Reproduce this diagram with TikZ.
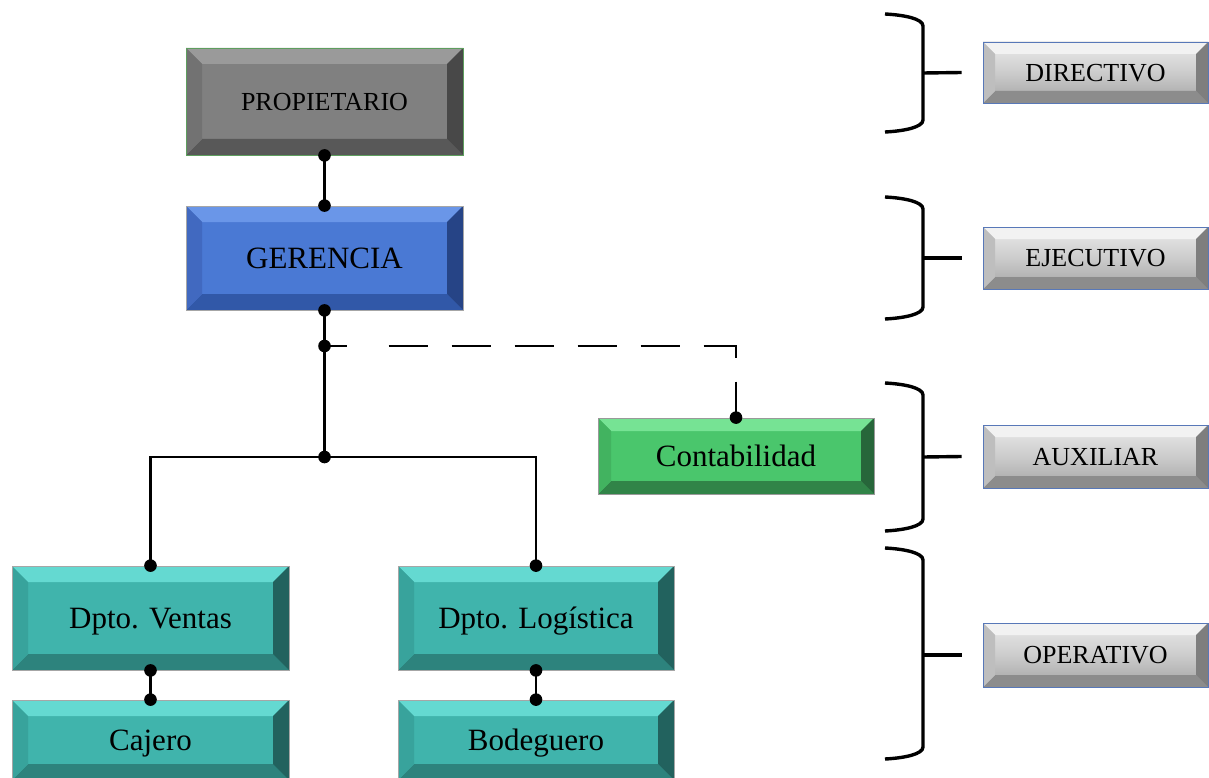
\documentclass[tikz,border=0pt]{standalone}
\usepackage{fontspec}
\setmainfont{Liberation Serif}
\definecolor{gbase}{HTML}{808080}\definecolor{gtop}{HTML}{9A9A9A}\definecolor{gbot}{HTML}{585858}\definecolor{gright}{HTML}{484848}\definecolor{gleft}{HTML}{727272}
\definecolor{bbase}{HTML}{4A79D4}\definecolor{btop}{HTML}{6A96E8}\definecolor{bbot}{HTML}{3158A8}\definecolor{bright}{HTML}{264486}\definecolor{bleft}{HTML}{4169C0}
\definecolor{cbase}{HTML}{4AC66C}\definecolor{ctop}{HTML}{76E394}\definecolor{cbot}{HTML}{318448}\definecolor{cright}{HTML}{27663A}\definecolor{cleft}{HTML}{42B360}
\definecolor{tbase}{HTML}{40B4AC}\definecolor{ttop}{HTML}{64D9D1}\definecolor{tbot}{HTML}{2D837D}\definecolor{tright}{HTML}{22625E}\definecolor{tleft}{HTML}{38A39C}
\definecolor{ltop}{HTML}{F2F2F2}\definecolor{lbot}{HTML}{8C8C8C}\definecolor{lright}{HTML}{7E7E7E}\definecolor{lleft}{HTML}{BEBEBE}
\definecolor{lborder}{HTML}{5878B8}\definecolor{pborder}{HTML}{5E9E5E}
\tikzset{
  bevsz/.store in=\bevsz, bevsz=16,
  bev/.style n args={4}{path picture={
    \fill[#1] (path picture bounding box.north west) -- (path picture bounding box.north east)
      -- ([xshift=-\bevsz pt,yshift=-\bevsz pt]path picture bounding box.north east)
      -- ([xshift=\bevsz pt,yshift=-\bevsz pt]path picture bounding box.north west) -- cycle;
    \fill[#2] (path picture bounding box.south west) -- (path picture bounding box.south east)
      -- ([xshift=-\bevsz pt,yshift=\bevsz pt]path picture bounding box.south east)
      -- ([xshift=\bevsz pt,yshift=\bevsz pt]path picture bounding box.south west) -- cycle;
    \fill[#3] (path picture bounding box.north east) -- (path picture bounding box.south east)
      -- ([xshift=-\bevsz pt,yshift=\bevsz pt]path picture bounding box.south east)
      -- ([xshift=-\bevsz pt,yshift=-\bevsz pt]path picture bounding box.north east) -- cycle;
    \fill[#4] (path picture bounding box.north west) -- (path picture bounding box.south west)
      -- ([xshift=\bevsz pt,yshift=\bevsz pt]path picture bounding box.south west)
      -- ([xshift=\bevsz pt,yshift=-\bevsz pt]path picture bounding box.north west) -- cycle;
  }},
  boxbase/.style={rectangle, draw=#1, line width=0.8pt, inner sep=0pt, text=black,
    text height=20.5pt, text depth=0pt, font=\fontsize{31}{36}\selectfont},
  propbox/.style={boxbase=pborder, fill=gbase, bev={gtop}{gbot}{gright}{gleft},
    font=\fontsize{26}{30}\selectfont, text height=17.2pt},
  gerbox/.style={boxbase=gray!70, fill=bbase, bev={btop}{bbot}{bright}{bleft}},
  contbox/.style={boxbase=gray!80, fill=cbase, bevsz=13, bev={ctop}{cbot}{cright}{cleft}},
  tealbox/.style={boxbase=gray!70, fill=tbase, bev={ttop}{tbot}{tright}{tleft}},
  lvlbox/.style={rectangle, draw=lborder, line width=0.8pt, inner sep=0pt,
    text height=17.2pt, text depth=0pt,
    top color=black!8, bottom color=black!36, middle color=black!20,
    bevsz=12, bev={ltop}{lbot}{lright}{lleft}, font=\fontsize{26}{30}\selectfont,
    minimum width=225, minimum height=62},
  conn/.style={line width=2.4pt},
  brack/.style={line width=3.4pt},
}
\newcommand\jdot[1]{\fill (#1) circle[radius=6.3pt];}
\newcommand\mybrack[4]{% name, top, bottom, mid
  \draw[brack] (885,#2) .. controls (905,#2+1) and (923,#2+5) .. (923,#2+12)
    -- (923,#3-12) .. controls (923,#3-5) and (905,#3-1) .. (885,#3);
  \coordinate (#1) at (923,#4);}
\begin{document}
\begin{tikzpicture}[x=1pt,y=-1pt]
\clip (0,0) rectangle (1209,778);
\fill[white] (0,0) rectangle (1209,778);
% main boxes
\node[propbox, minimum width=277, minimum height=107] (prop) at (324.5,101.5) {PROPIETARIO};
\node[gerbox, minimum width=277, minimum height=104] (ger) at (324.5,258) {GERENCIA};
\node[contbox, minimum width=276, minimum height=76] (cont) at (736,456) {Contabilidad};
\node[tealbox, minimum width=277, minimum height=104] (ven) at (150.5,618) {Dpto. Ventas};
\node[tealbox, minimum width=276, minimum height=104] (log) at (536,618) {Dpto. Logística};
\node[tealbox, minimum width=277, minimum height=80] (caj) at (150.5,740) {Cajero};
\node[tealbox, minimum width=276, minimum height=80] (bod) at (536,740) {Bodeguero};
% level boxes
\node[lvlbox, minimum height=61] (dir) at (1095.5,72.5) {DIRECTIVO};
\node[lvlbox] (eje) at (1095.5,258) {EJECUTIVO};
\node[lvlbox, minimum height=63] (aux) at (1095.5,456.5) {AUXILIAR};
\node[lvlbox, minimum height=64] (ope) at (1095.5,655) {OPERATIVO};
% connectors
\coordinate (j1) at (324.5,346);
\coordinate (j2) at (324.5,457);
\draw[conn] (prop.south) -- (ger.north);
\draw[conn] (ger.south) -- (j1) -- (j2);
\draw[conn, dash pattern=on 22pt off 42pt on 39pt off 24pt on 39pt off 24pt on 39pt off 24pt on 39pt off 24pt on 39pt off 24pt on 44pt off 24pt on 40pt] (j1) -| (cont.north);
\draw[conn] (j2) -| (ven.north);
\draw[conn] (j2) -| (log.north);
\draw[conn] (ven.south) -- (caj.north);
\draw[conn] (log.south) -- (bod.north);
\foreach \p in {prop.south, ger.north, ger.south, j1, j2, cont.north, ven.north, log.north, ven.south, caj.north, log.south, bod.north} {\jdot{\p}}
% brackets
\mybrack{bdir}{14}{132}{73}
\mybrack{beje}{197}{319}{258}
\mybrack{baux}{383}{531}{457}
\mybrack{bope}{548}{759}{655}
\draw[brack] (bdir) -- ([xshift=-21pt]dir.west);
\draw[brack] (beje) -- ([xshift=-21pt]eje.west);
\draw[brack] (baux) -- ([xshift=-21pt]aux.west);
\draw[brack] (bope) -- ([xshift=-21pt]ope.west);
\end{tikzpicture}
\end{document}
